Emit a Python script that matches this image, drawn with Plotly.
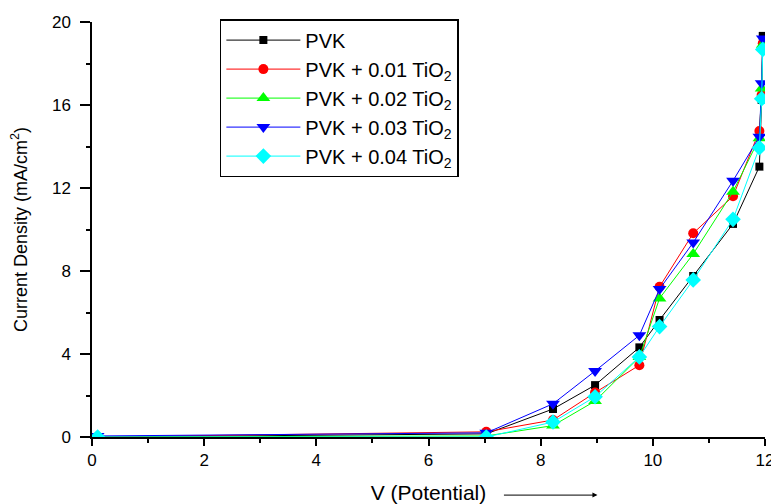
import plotly.graph_objects as go

x_vals = [0.1, 7.03, 8.22, 8.97, 9.76, 10.12, 10.72, 11.43, 11.9, 11.94, 11.96]

pvk = [0.0, 0.15, 1.35, 2.5, 4.32, 5.64, 7.76, 10.27, 13.03, 16.24, 19.33]
pvk_001 = [0.0, 0.25, 0.82, 2.14, 3.46, 7.24, 9.82, 11.6, 14.75, 16.48, 18.97]
pvk_002 = [0.0, 0.05, 0.55, 1.73, 3.85, 6.68, 8.82, 11.82, 14.4, 16.8, 18.9]
pvk_003 = [0.05, 0.2, 1.6, 3.18, 4.9, 7.13, 9.37, 12.35, 14.47, 17.05, 19.2]
pvk_004 = [0.0, 0.0, 0.72, 1.94, 3.86, 5.32, 7.57, 10.49, 13.94, 16.3, 18.68]

names = ["PVK", "PVK + 0.01 TiO<sub>2</sub>", "PVK + 0.02 TiO<sub>2</sub>",
         "PVK + 0.03 TiO<sub>2</sub>", "PVK + 0.04 TiO<sub>2</sub>"]
series = [pvk, pvk_001, pvk_002, pvk_003, pvk_004]
colors = ["#000000", "#ff0000", "#00ff00", "#0000ff", "#00ffff"]
symbols = ["square", "circle", "triangle-up", "triangle-down", "diamond"]
sizes = [8, 10, 12, 12, 12]

fig = go.Figure()
for n, y, c, s, sz in zip(names, series, colors, symbols, sizes):
    fig.add_trace(go.Scatter(
        x=x_vals, y=y, name=n, mode="lines+markers",
        line=dict(color=c, width=1),
        marker=dict(color=c, symbol=s, size=sz, line=dict(width=0)),
    ))

font = "Liberation Sans, Arial, sans-serif"
fig.update_layout(
    width=779, height=504,
    margin=dict(l=84, r=22, t=14, b=75, autoexpand=False),
    paper_bgcolor="white", plot_bgcolor="white",
    font=dict(family=font, color="black", size=17),
    showlegend=True,
    legend=dict(
        x=0.19, y=1.007, xanchor="left", yanchor="top",
        bordercolor="black", borderwidth=1.5,
        font=dict(size=20, family=font),
        bgcolor="white", tracegroupgap=0, itemwidth=74,
    ),
    xaxis=dict(
        range=[0, 12], dtick=2, tick0=0, automargin=False,
        showline=True, linecolor="black", linewidth=1.5,
        ticks="outside", ticklen=7, tickwidth=1.5, tickcolor="black",
        minor=dict(dtick=1, ticks="outside", ticklen=4, tickwidth=1.5, tickcolor="black"),
        showgrid=False, zeroline=False,
        title=dict(text="V (Potential)", font=dict(size=21), standoff=16),
        tickfont=dict(size=17),
    ),
    yaxis=dict(
        range=[0, 20], dtick=4, tick0=0, automargin=False,
        showline=True, linecolor="black", linewidth=1.5,
        ticks="outside", ticklen=10, tickwidth=1.5, tickcolor="black",
        ticklabelstandoff=6,
        minor=dict(dtick=2, ticks="outside", ticklen=4, tickwidth=1.5, tickcolor="black"),
        showgrid=False, zeroline=False,
        title=dict(text="Current Density (mA/cm<sup>2</sup>)", font=dict(size=18), standoff=22),
        tickfont=dict(size=17),
    ),
)

fig.add_annotation(
    xref="paper", yref="paper", x=0.751, y=-0.140,
    ax=-95, ay=0, axref="pixel", ayref="pixel",
    showarrow=True, arrowhead=2, arrowsize=1, arrowwidth=1, arrowcolor="black", text="",
)

fig.write_html("out.html")
